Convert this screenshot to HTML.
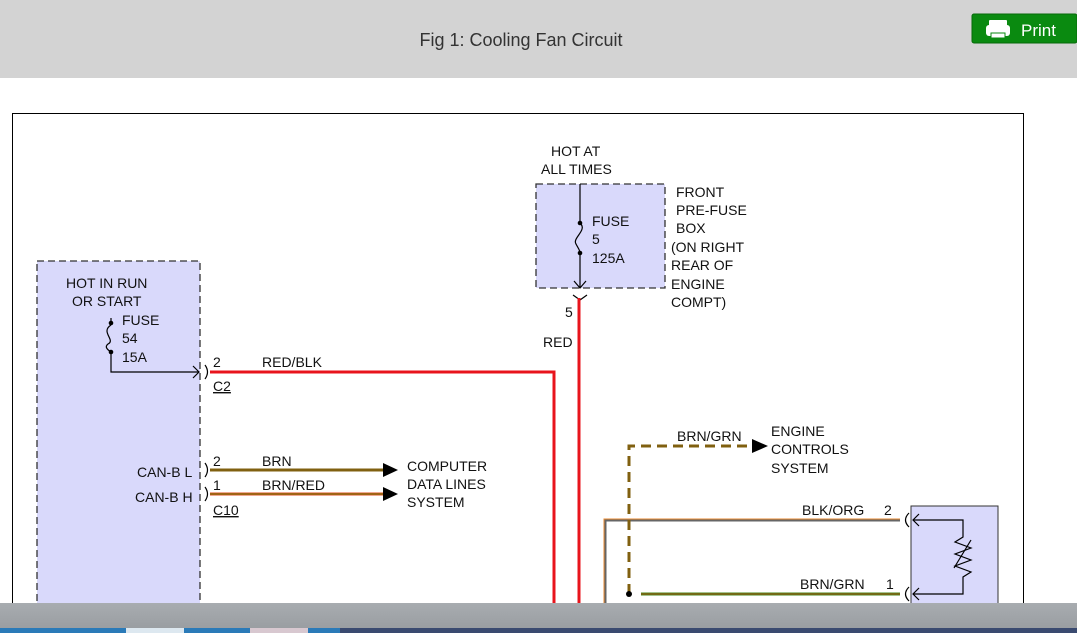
<!DOCTYPE html>
<html><head><meta charset="utf-8"><style>
html,body{margin:0;padding:0;width:1077px;height:633px;overflow:hidden;background:#fff;font-family:"Liberation Sans",Arial,sans-serif}
svg{display:block}
</style></head><body>
<svg width="1077" height="633" viewBox="0 0 1077 633" xmlns="http://www.w3.org/2000/svg" font-family="Liberation Sans, Arial, sans-serif">
<rect x="0" y="0" width="1077" height="78" fill="#d3d3d3"/>
<text x="521" y="46" font-size="18" fill="#333" text-anchor="middle">Fig 1: Cooling Fan Circuit</text>
<rect x="972" y="14" width="105" height="29" rx="2" fill="#0a8a10" stroke="#066a0a"/>
<rect x="989" y="20" width="18" height="7" fill="#fff" rx="1"/>
<rect x="986" y="25" width="24" height="11" fill="#fff" rx="3"/>
<rect x="991" y="33" width="14" height="5" fill="#fff" stroke="#0a8a10"/>
<text x="1021" y="36" font-size="17" fill="#fff">Print</text>

<rect x="12.5" y="113.5" width="1011" height="518" fill="#fff" stroke="#000"/>

<!-- left module -->
<rect x="37" y="261" width="163" height="370" fill="#d9d9fb" stroke="#333" stroke-width="1.3" stroke-dasharray="7,4"/>
<g font-size="14" fill="#111">
<text x="66" y="288">HOT IN RUN</text><text x="72" y="306">OR START</text>
<text x="122" y="325">FUSE</text><text x="122" y="343">54</text><text x="122" y="362">15A</text>
<text x="137" y="477">CAN-B L</text><text x="135" y="502">CAN-B H</text>
<text x="213" y="367">2</text><text x="262" y="367">RED/BLK</text>
<text x="213" y="391" text-decoration="underline">C2</text>
<text x="213" y="466">2</text><text x="262" y="466">BRN</text>
<text x="213" y="490">1</text><text x="262" y="490">BRN/RED</text>
<text x="213" y="515" text-decoration="underline">C10</text>
<text x="407" y="471">COMPUTER</text><text x="407" y="489">DATA LINES</text><text x="407" y="507">SYSTEM</text>
</g>
<g stroke="#000" fill="none" stroke-width="1.2">
<path d="M111 318 L111 325 M111 352 L111 372 L199 372"/><path d="M193 366 L199 372 L193 378"/>
<path d="M111 325 C100 332, 116 340, 108 344 C104 347, 108 350, 111 352"/>
<path d="M205 365 Q210 372 205 379"/>
<path d="M205 463 Q210 470 205 477"/><path d="M205 487 Q210 494 205 501"/>
</g>
<circle cx="111" cy="323" r="2.3"/><circle cx="111" cy="352" r="2.3"/>
<path d="M210 372 L554 372 L554 610" stroke="#e8141c" stroke-width="3" fill="none"/>
<line x1="210" y1="470" x2="384" y2="470" stroke="#806010" stroke-width="3"/>
<line x1="210" y1="494" x2="384" y2="494" stroke="#e05020" stroke-width="3"/>
<line x1="210" y1="494" x2="384" y2="494" stroke="#8a6a10" stroke-width="1.5"/>
<path d="M383 463 L398 470 L383 477Z M383 487 L398 494 L383 501Z" fill="#000"/>

<!-- fuse box -->
<rect x="536" y="184" width="129" height="104" fill="#d9d9fb" stroke="#333" stroke-width="1.3" stroke-dasharray="7,4"/>
<g font-size="14" fill="#111">
<text x="551" y="156">HOT AT</text><text x="541" y="174">ALL TIMES</text>
<text x="592" y="226">FUSE</text><text x="592" y="244">5</text><text x="592" y="263">125A</text>
<text x="676" y="197">FRONT</text><text x="676" y="215">PRE-FUSE</text><text x="676" y="233">BOX</text>
<text x="671" y="252">(ON RIGHT</text><text x="671" y="270">REAR OF</text><text x="671" y="289">ENGINE</text><text x="671" y="307">COMPT)</text>
<text x="565" y="317">5</text><text x="543" y="347">RED</text>
</g>
<g stroke="#000" fill="none" stroke-width="1.2">
<path d="M580 184 L580 223 M580 253 L580 288"/><path d="M574 281 L580 288 L586 281"/>
<path d="M580 223 C588 230, 572 238, 576 244 C578 248, 580 250, 580 253"/>
<path d="M573 295 L580 300 L587 295"/>
</g>
<circle cx="580" cy="223" r="2.3"/><circle cx="580" cy="253" r="2.3"/>
<line x1="579" y1="298" x2="579" y2="610" stroke="#e8141c" stroke-width="3"/>

<!-- right side -->
<path d="M605 610 L605 520 L900 520" stroke="#666" stroke-width="3" fill="none"/>
<path d="M604 610 L604 519 L900 519" stroke="#e88a30" stroke-width="1" fill="none"/>
<path d="M629 594 L629 446 L755 446" stroke="#806010" stroke-width="3" fill="none" stroke-dasharray="10,6"/>
<path d="M752 439 L768 446 L752 453Z" fill="#000"/>
<circle cx="629" cy="594" r="3" fill="#000"/>
<line x1="641" y1="594" x2="900" y2="594" stroke="#4a8a20" stroke-width="3"/>
<line x1="641" y1="594" x2="900" y2="594" stroke="#806010" stroke-width="1.5"/>
<g font-size="14" fill="#111">
<text x="677" y="441">BRN/GRN</text>
<text x="771" y="436">ENGINE</text><text x="771" y="454">CONTROLS</text><text x="771" y="473">SYSTEM</text>
<text x="802" y="515">BLK/ORG</text><text x="884" y="515">2</text>
<text x="800" y="589">BRN/GRN</text><text x="886" y="589">1</text>
</g>
<rect x="911" y="506" width="87" height="110" fill="#d9d9fb" stroke="#333"/>
<g stroke="#000" fill="none" stroke-width="1.2">
<path d="M909 513 Q902 520 909 527"/><path d="M909 587 Q902 594 909 601"/>
<path d="M913 520 L963 520 L963 537 L955 542 L971 548 L955 554 L971 560 L955 566 L971 572 L963 577 L963 594 L913 594"/>
<path d="M919 514 L913 520 L919 526 M919 588 L913 594 L919 600"/>
<path d="M954 568 L971 540"/>
</g>

<!-- taskbar -->
<defs><linearGradient id="tb" x1="0" y1="0" x2="0" y2="1"><stop offset="0" stop-color="#a8acb0"/><stop offset="1" stop-color="#9a9ea2"/></linearGradient></defs>
<rect x="0" y="603" width="1077" height="25" fill="url(#tb)"/>
<rect x="0" y="628" width="1077" height="5" fill="#2a7ab8"/>
<rect x="126" y="628" width="58" height="5" fill="#dde8f0"/>
<rect x="250" y="628" width="58" height="5" fill="#d8c8d0"/>
<rect x="340" y="628" width="737" height="5" fill="#3a4a70"/>
</svg>
</body></html>
